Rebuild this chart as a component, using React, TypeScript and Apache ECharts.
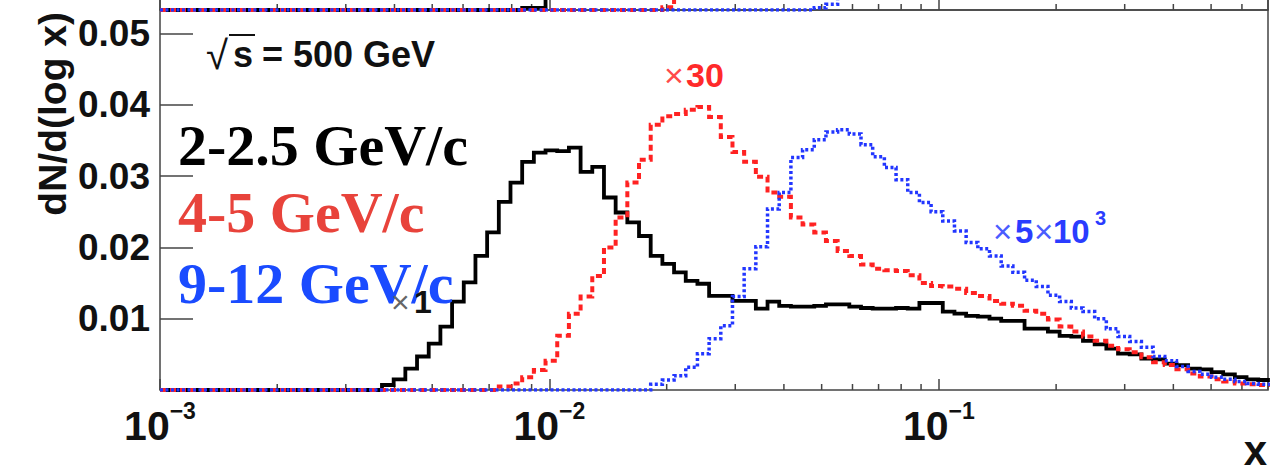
import React, { useEffect, useRef } from "react";
import * as echarts from "echarts";

// ---- histogram binning (log10 x, 0.03 per bin starting at 10^-3) ----
const BIN_LOG_START = -3;
const BIN_LOG_WIDTH = 0.03;

// dN/d(log x), 2-2.5 GeV/c (x1), bins 0..94
const black_2_2p5 = [
  0, 0, 0, 0, 0, 0, 0, 0, 0, 0,
  0, 0, 0, 0, 0, 0, 0, 0, 0, 0.0007,
  0.0015, 0.003, 0.0047, 0.0065, 0.0089, 0.0124, 0.0151, 0.0188, 0.0221, 0.0264,
  0.0291, 0.032, 0.0333, 0.0336, 0.0335, 0.034, 0.0306, 0.0313, 0.027, 0.0249,
  0.0235, 0.0216, 0.0188, 0.0177, 0.0165, 0.0153, 0.0149, 0.0132, 0.0132, 0.0125,
  0.0125, 0.0114, 0.0124, 0.0118, 0.0117, 0.0117, 0.0118, 0.012, 0.012, 0.0117,
  0.0115, 0.0114, 0.0114, 0.0115, 0.0114, 0.0122, 0.0122, 0.011, 0.0107, 0.0104,
  0.0103, 0.01, 0.0097, 0.0097, 0.0086, 0.0086, 0.0082, 0.0076, 0.0075, 0.0069,
  0.0064, 0.0058, 0.0051, 0.005, 0.0044, 0.0043, 0.0037, 0.0035, 0.003, 0.0029,
  0.0025, 0.0022, 0.0018, 0.0015, 0.0014,
];

// 4-5 GeV/c (x30)
const red_4_5 = [
  0, 0, 0, 0, 0, 0, 0, 0, 0, 0,
  0, 0, 0, 0, 0, 0, 0, 0, 0, 0,
  0, 0, 0, 0, 0, 0, 0, 0, 0, 0.0005,
  0.0009, 0.0018, 0.0028, 0.0041, 0.0076, 0.0107, 0.0131, 0.016, 0.02, 0.0242,
  0.0291, 0.0323, 0.0372, 0.0384, 0.0387, 0.0393, 0.0397, 0.0383, 0.0355, 0.0334,
  0.032, 0.0299, 0.0277, 0.0271, 0.0242, 0.0232, 0.0221, 0.0209, 0.0195, 0.0188,
  0.0176, 0.017, 0.0168, 0.0167, 0.0161, 0.015, 0.0146, 0.0145, 0.0142, 0.0136,
  0.0132, 0.0125, 0.0121, 0.0118, 0.0111, 0.0107, 0.0099, 0.0089, 0.0082, 0.0075,
  0.0069, 0.0062, 0.0057, 0.0053, 0.0046, 0.0039, 0.0035, 0.0029, 0.0023, 0.0019,
  0.0015, 0.0012, 0.0009, 0.0008, 0.0007,
];

// 9-12 GeV/c (x5x10^3)
const blue_9_12 = [
  0, 0, 0, 0, 0, 0, 0, 0, 0, 0,
  0, 0, 0, 0, 0, 0, 0, 0, 0, 0,
  0, 0, 0, 0, 0, 0, 0, 0, 0, 0,
  0, 0, 0, 0, 0, 0, 0, 0, 0, 0,
  0, 0, 0.0008, 0.0014, 0.002, 0.0032, 0.0051, 0.0072, 0.009, 0.0131,
  0.017, 0.0201, 0.0254, 0.0277, 0.0326, 0.0337, 0.0351, 0.0362, 0.0365, 0.0359,
  0.0344, 0.0327, 0.0312, 0.0295, 0.0277, 0.0263, 0.025, 0.0237, 0.0223, 0.0207,
  0.0198, 0.0188, 0.0174, 0.0165, 0.0154, 0.0145, 0.0133, 0.0124, 0.0115, 0.011,
  0.01, 0.0086, 0.0075, 0.0068, 0.006, 0.0047, 0.0041, 0.0033, 0.0026, 0.0022,
  0.0018, 0.0015, 0.0012, 0.0009, 0.0008,
];

// visible bottom strip of the panel above (only the rising edges are in view)
const upperBlack = [
  0, 0, 0, 0, 0, 0, 0, 0, 0, 0,
  0, 0, 0, 0, 0, 0, 0, 0, 0, 0,
  0, 0, 0, 0, 0, 0, 0, 0, 0, 0,
  0, 0.0003, 0.0003, 0.005,
];
const upperRed = [
  0, 0, 0, 0, 0, 0, 0, 0, 0, 0,
  0, 0, 0, 0, 0, 0, 0, 0, 0, 0,
  0, 0, 0, 0, 0, 0, 0, 0, 0, 0,
  0, 0, 0, 0, 0, 0, 0, 0, 0, 0,
  0, 0, 0, 0.0004, 0.005,
];
const upperBlue = [
  0, 0, 0, 0, 0, 0, 0, 0, 0, 0,
  0, 0, 0, 0, 0, 0, 0, 0, 0, 0,
  0, 0, 0, 0, 0, 0, 0, 0, 0, 0,
  0, 0, 0, 0, 0, 0, 0, 0, 0, 0,
  0, 0, 0, 0, 0, 0, 0, 0, 0, 0,
  0, 0, 0, 0, 0, 0, 0.0003, 0.0008, 0.005,
];

const X_MIN = 0.001;
const X_MAX = 0.7;
const Y_MIN = 0;
const Y_MAX = 0.0533;
const Y_STEP = 0.01;
const MINOR_TICKS = [
  0.002, 0.003, 0.004, 0.005, 0.006, 0.007, 0.008, 0.009,
  0.02, 0.03, 0.04, 0.05, 0.06, 0.07, 0.08, 0.09,
  0.2, 0.3, 0.4, 0.5, 0.6,
];

const SANS = '"Liberation Sans", Arial, Helvetica, sans-serif';
const SERIF = '"Liberation Serif", "Times New Roman", serif';
const FRAME = "#444";
const RED_LINE = "#ff2222";
const BLUE_LINE = "#2236ff";

function toSteps(values: number[]) {
  const pts: number[][] = values.map((v, i) => [
    Math.pow(10, BIN_LOG_START + i * BIN_LOG_WIDTH),
    v,
  ]);
  pts.push([
    Math.pow(10, BIN_LOG_START + values.length * BIN_LOG_WIDTH),
    values[values.length - 1],
  ]);
  return pts;
}

function hist(data: number[], color: string, width: number, dash: any, axis: number, z: number) {
  return {
    type: "line",
    data: toSteps(data),
    step: "end",
    xAxisIndex: axis,
    yAxisIndex: axis,
    symbol: "none",
    showSymbol: false,
    silent: true,
    z,
    lineStyle: { color, width, type: dash, cap: "butt", join: "miter" },
  };
}

function minorTicks(axis: number) {
  return {
    type: "custom",
    xAxisIndex: axis,
    yAxisIndex: axis,
    silent: true,
    clip: false,
    z: 1,
    data: MINOR_TICKS.map((v) => [v, Y_MIN]),
    renderItem: (_p: any, api: any) => {
      const p = api.coord([api.value(0), api.value(1)]);
      return {
        type: "line",
        shape: { x1: p[0], y1: p[1], x2: p[0], y2: p[1] - 6 },
        style: { stroke: FRAME, lineWidth: 1.5 },
      };
    },
  };
}

const mid = (baseline: number, size: number) => baseline - 0.3465 * size;
const midSerif = (baseline: number, size: number) => baseline - 0.3375 * size;

function txt(text: string, x: number, y: number, size: number, color: string, weight = "bold", family = SANS, align = "left", vAlign = "middle") {
  return {
    type: "text",
    x,
    y,
    silent: true,
    z: 10,
    style: {
      text,
      fontSize: size,
      fontWeight: weight,
      fontFamily: family,
      fill: color,
      textAlign: align,
      textVerticalAlign: vAlign,
    },
  };
}

const gridBase = {
  left: 160,
  width: 1108,
  height: 380,
  show: true,
  borderColor: FRAME,
  borderWidth: 1.5,
  backgroundColor: "transparent",
  containLabel: false,
  outerBoundsMode: "none",
};

const option: any = {
  animation: false,
  backgroundColor: "#fff",
  grid: [
    { ...gridBase, top: 10 },
    { ...gridBase, top: -370 },
  ],
  xAxis: [
    {
      type: "log",
      logBase: 10,
      gridIndex: 0,
      min: X_MIN,
      max: X_MAX,
      axisLine: { show: false },
      splitLine: { show: false },
      axisTick: { show: true, inside: true, length: 11, lineStyle: { color: FRAME, width: 1.5 } },
      axisLabel: {
        show: true,
        margin: 9,
        formatter: (v: number) => {
          const e = Math.round(Math.log10(v));
          if (Math.abs(v / Math.pow(10, e) - 1) > 1e-6) return "";
          return `{a|10}{b|${e < 0 ? "\u2212" : ""}${Math.abs(e)}}`;
        },
        rich: {
          a: { fontSize: 41, fontWeight: "bold", fontFamily: SANS, color: "#111", lineHeight: 54 },
          b: { fontSize: 23, fontWeight: "bold", fontFamily: SANS, color: "#111", verticalAlign: "top" },
        },
      },
    },
    {
      type: "log",
      logBase: 10,
      gridIndex: 1,
      min: X_MIN,
      max: X_MAX,
      axisLine: { show: false },
      splitLine: { show: false },
      axisTick: { show: true, inside: true, length: 11, lineStyle: { color: FRAME, width: 1.5 } },
      axisLabel: { show: false },
    },
  ],
  yAxis: [
    {
      type: "value",
      gridIndex: 0,
      min: Y_MIN,
      max: Y_MAX,
      interval: Y_STEP,
      axisLine: { show: false },
      splitLine: { show: false },
      axisTick: { show: true, inside: true, length: 33, lineStyle: { color: FRAME, width: 1.5 } },
      axisLabel: {
        show: true,
        margin: 10,
        fontSize: 37,
        fontWeight: "bold",
        fontFamily: SANS,
        color: "#111",
        formatter: (v: number) => (v > 0.005 && v < 0.0505 ? v.toFixed(2) : ""),
      },
    },
    {
      type: "value",
      gridIndex: 1,
      min: Y_MIN,
      max: Y_MAX,
      axisLine: { show: false },
      splitLine: { show: false },
      axisTick: { show: false },
      axisLabel: { show: false },
    },
  ],
  series: [
    minorTicks(0),
    minorTicks(1),
    hist(black_2_2p5, "#000", 3.8, "solid", 0, 3),
    hist(red_4_5, RED_LINE, 4, [6, 4], 0, 4),
    hist(blue_9_12, BLUE_LINE, 3.5, [3, 2.5], 0, 5),
    hist(upperBlack, "#000", 3.8, "solid", 1, 3),
    hist(upperRed, RED_LINE, 4, [6, 4], 1, 4),
    hist(upperBlue, BLUE_LINE, 3.5, [3, 2.5], 1, 5),
  ],
  graphic: [
    // y-axis title (rotated)
    {
      type: "text",
      x: 52,
      y: 12,
      rotation: Math.PI / 2,
      silent: true,
      style: {
        text: "dN/d(log x)",
        fontSize: 39,
        fontWeight: "bold",
        fontFamily: SANS,
        fill: "#111",
        textAlign: "right",
        textVerticalAlign: "middle",
      },
    },
    // x-axis title
    txt("x", 1267, 471, 42, "#111", "bold", SANS, "right", "bottom"),
    // sqrt(s) = 500 GeV
    txt("\u221A", 206, mid(69, 40), 40, "#111", "normal"),
    {
      type: "line",
      silent: true,
      shape: { x1: 229, y1: 35, x2: 255, y2: 35 },
      style: { stroke: "#111", lineWidth: 2 },
    },
    txt("s", 233, mid(67, 36), 36, "#111"),
    txt("= 500 GeV", 262, mid(67, 36), 36, "#111"),
    // legend texts
    txt("2-2.5 GeV/c", 178, midSerif(165, 58), 58, "#000", "bold", SERIF),
    txt("4-5 GeV/c", 178, midSerif(232, 58), 58, "#e8433b", "bold", SERIF),
    txt("9-12 GeV/c", 178, midSerif(303, 58), 58, "#1a4bff", "bold", SERIF),
    // scale factors
    txt("\u00D7", 391, mid(313, 32), 32, "#666", "normal"),
    txt("1", 414, mid(313, 32), 32, "#111"),
    txt("\u00D7", 664, mid(87, 34), 34, "#ff4a4a", "normal"),
    txt("30", 686, mid(87, 34), 34, "#ff2a2a"),
    txt("\u00D7", 993, mid(243, 33), 33, "#4a5cff", "normal"),
    txt("5", 1015, mid(243, 33), 33, "#2a3cff"),
    txt("\u00D7", 1034, mid(243, 33), 33, "#4a5cff", "normal"),
    txt("10", 1053, mid(243, 33), 33, "#2a3cff"),
    txt("3", 1095, mid(225, 20), 20, "#2a3cff"),
  ],
};

export default function App() {
  const ref = useRef<HTMLDivElement>(null);
  useEffect(() => {
    const chart = echarts.init(ref.current as HTMLDivElement, null, {
      renderer: "svg",
      width: 1271,
      height: 472,
    });
    chart.setOption(option);
    return () => chart.dispose();
  }, []);
  return (
    <div
      ref={ref}
      style={{ position: "absolute", left: 0, top: 0, width: 1271, height: 472, background: "#fff" }}
    />
  );
}
